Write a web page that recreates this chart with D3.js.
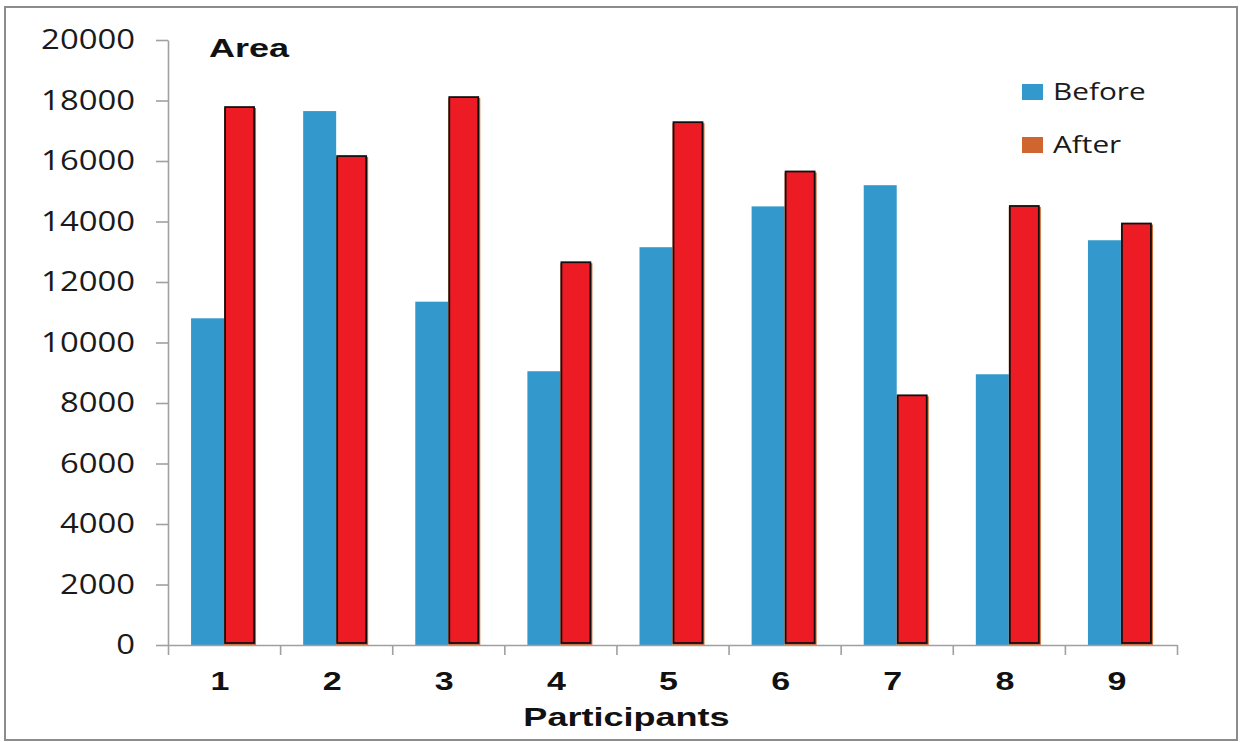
<!DOCTYPE html>
<html><head><meta charset="utf-8">
<script src="https://cdn.jsdelivr.net/npm/d3@7"></script>
<style>body{margin:0;background:#fff}svg{display:block}</style>
</head><body>
<svg id="c" width="1243" height="742"></svg>
<script>
const categories = ["1","2","3","4","5","6","7","8","9"];
const beforeVals = [10800, 17650, 11350, 9050, 13150, 14500, 15200, 8950, 13380];
const afterVals  = [17750, 16130, 18080, 12620, 17250, 15620, 8220, 14480, 13900];
const yTicks = [0,2000,4000,6000,8000,10000,12000,14000,16000,18000,20000];
const seriesNames = ["Before","After"];
const colors = {before:"#3399cc", after:"#d0662f", overlay:"#ed1c24"};

(function(){
const svg = d3.select("#c");
const pLeft=168, pRight=1177, pTop=40, pBottom=645;
const SX = 1.24, SXB = 1.36;

svg.append("rect").attr("x",5).attr("y",7).attr("width",1232).attr("height",733)
  .attr("fill","#fff").attr("stroke","#8c8c8c").attr("stroke-width",2);

const y = d3.scaleLinear().domain([0,20000]).range([pBottom,pTop]);
const x = d3.scaleBand().domain(categories).range([pLeft,pRight]).padding(0);
const xb = d3.scaleLinear().domain([0,categories.length]).range([pLeft,pRight]);
const barW = 33;

// y axis
const ya = svg.append("g").attr("transform",`translate(${pLeft},0)`)
  .call(d3.axisLeft(y).tickValues(yTicks).tickSize(12).tickSizeOuter(0).tickFormat(d=>d));
ya.select(".domain").attr("stroke","#a0a0a0").attr("stroke-width",1.6);
ya.selectAll(".tick line").attr("stroke","#a0a0a0").attr("stroke-width",1.6);
ya.selectAll(".tick text").attr("x",0).attr("dy",0)
  .attr("transform",`translate(-33,8.5) scale(${SX},1)`)
  .attr("font-family","Open Sans").attr("font-size",26.5).attr("fill","#1a1a1a").attr("text-anchor","end");

// bars
const g = svg.append("g");
g.selectAll("rect.b").data(categories).join("rect").attr("class","b")
  .attr("x",d=>x(d)+x.bandwidth()/2-barW).attr("width",barW)
  .attr("y",(d,i)=>y(beforeVals[i])).attr("height",(d,i)=>pBottom-y(beforeVals[i]))
  .attr("fill",colors.before);
g.selectAll("rect.a").data(categories).join("rect").attr("class","a")
  .attr("x",d=>x(d)+x.bandwidth()/2).attr("width",barW-1)
  .attr("y",(d,i)=>y(afterVals[i])).attr("height",(d,i)=>pBottom-y(afterVals[i]))
  .attr("fill",colors.after);
g.selectAll("rect.o").data(categories).join("rect").attr("class","o")
  .attr("x",d=>x(d)+x.bandwidth()/2+1).attr("width",barW-4)
  .attr("y",(d,i)=>y(afterVals[i])-1).attr("height",(d,i)=>pBottom-y(afterVals[i])-1)
  .attr("fill",colors.overlay).attr("stroke","#111").attr("stroke-width",1.8);

// x axis
const xa = svg.append("g").attr("transform",`translate(0,${pBottom})`)
  .call(d3.axisBottom(xb).tickValues(d3.range(categories.length+1)).tickSize(10).tickSizeOuter(0).tickFormat(""));
xa.select(".domain").attr("stroke","#a0a0a0").attr("stroke-width",1.6);
xa.selectAll(".tick line").attr("stroke","#a0a0a0").attr("stroke-width",1.6);

svg.append("g").selectAll("text").data(categories).join("text")
  .attr("transform",d=>`translate(${x(d)+x.bandwidth()/2-4},690) scale(${SXB},1)`)
  .attr("text-anchor","middle").attr("font-family","Liberation Sans").attr("font-weight","bold")
  .attr("font-size",25).attr("fill","#111").text(d=>d);

svg.append("text").attr("transform",`translate(${(pLeft+pRight)/2-46},726) scale(${SXB},1)`)
  .attr("text-anchor","middle").attr("font-family","Liberation Sans").attr("font-weight","bold")
  .attr("font-size",26.5).attr("fill","#111").text("Participants");

svg.append("text").attr("transform",`translate(209,57) scale(${SXB},1)`)
  .attr("font-family","Liberation Sans").attr("font-weight","bold")
  .attr("font-size",26.5).attr("fill","#111").text("Area");

// legend
const lg = svg.append("g");
seriesNames.forEach((s,i)=>{
  const yy = 84 + i*53;
  lg.append("rect").attr("x",1022).attr("y",yy).attr("width",21).attr("height",16)
    .attr("fill",i===0?colors.before:colors.after);
  lg.append("text").attr("transform",`translate(1053,${yy+16}) scale(${SX},1)`)
    .attr("font-family","Open Sans").attr("font-size",24).attr("fill","#1a1a1a").text(s);
});
})();
</script>
</body></html>
